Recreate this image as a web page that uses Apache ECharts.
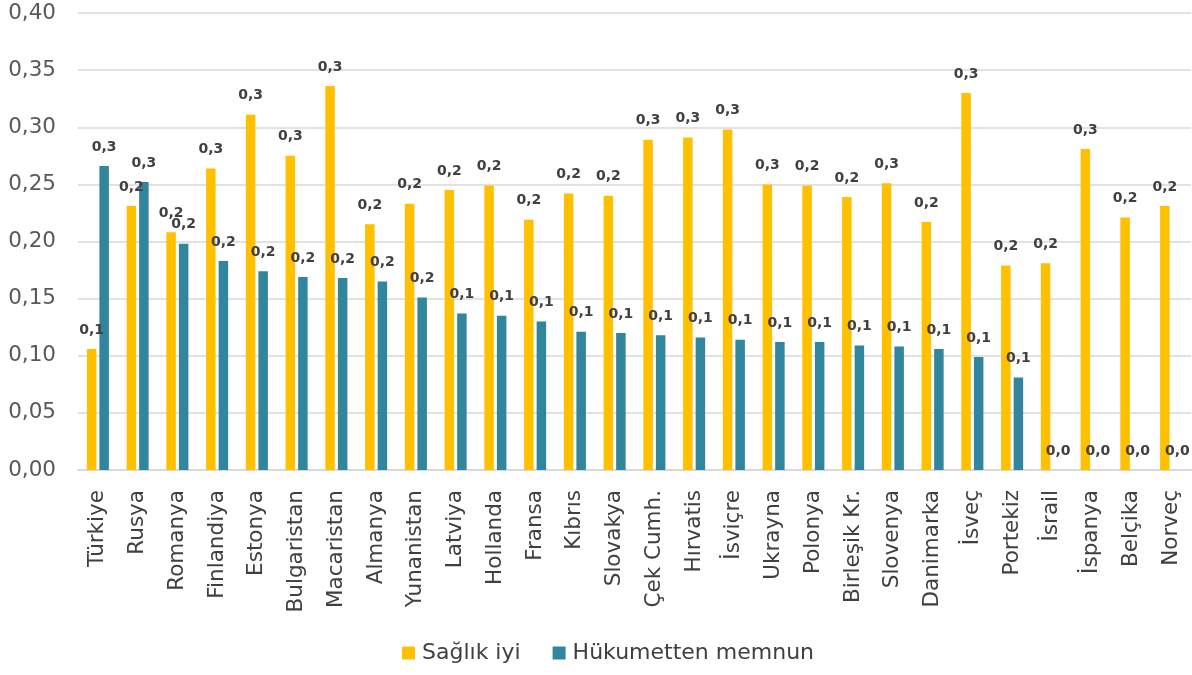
<!DOCTYPE html>
<html>
<head>
<meta charset="utf-8">
<script src="https://cdn.jsdelivr.net/npm/echarts@6/dist/echarts.min.js"></script>
<style>
  html, body { margin: 0; padding: 0; background: #ffffff; }
  #chart { width: 1192px; height: 675px; }
</style>
</head>
<body>
<div id="chart"></div>
<script>
// Ülkeler
const countries = [
  'Türkiye', 'Rusya', 'Romanya', 'Finlandiya', 'Estonya', 'Bulgaristan', 'Macaristan',
  'Almanya', 'Yunanistan', 'Latviya', 'Hollanda', 'Fransa', 'Kıbrıs', 'Slovakya',
  'Çek Cumh.', 'Hırvatis', 'İsviçre', 'Ukrayna', 'Polonya', 'Birleşik Kr.', 'Slovenya',
  'Danimarka', 'İsveç', 'Portekiz', 'İsrail', 'İspanya', 'Belçika', 'Norveç'
];

// Sağlık iyi
const saglikIyi = [
  0.106, 0.231, 0.208, 0.264, 0.311, 0.275, 0.336,
  0.215, 0.233, 0.245, 0.249, 0.219, 0.242, 0.240,
  0.289, 0.291, 0.298, 0.250, 0.249, 0.239, 0.251,
  0.217, 0.330, 0.179, 0.181, 0.281, 0.221, 0.231
];

// Hükumetten memnun
const hukumettenMemnun = [
  0.266, 0.252, 0.198, 0.183, 0.174, 0.169, 0.168,
  0.165, 0.151, 0.137, 0.135, 0.130, 0.121, 0.120,
  0.118, 0.116, 0.114, 0.112, 0.112, 0.109, 0.108,
  0.106, 0.099, 0.081, 0.0, 0.0, 0.0, 0.0
];

const seriesNames = ['Sağlık iyi', 'Hükumetten memnun'];
const yTicks = { min: 0, max: 0.40, interval: 0.05 };

const FONT = '"DejaVu Sans", sans-serif';
const comma = (v, d) => v.toFixed(d).replace('.', ',');

const dataLabel = {
  show: true,
  position: 'top',
  distance: 12,
  fontFamily: FONT,
  fontWeight: 'bold',
  fontSize: 14,
  color: '#404040',
  formatter: p => comma(p.value, 1)
};

const chart = echarts.init(document.getElementById('chart'), null, { renderer: 'canvas' });

chart.setOption({
  animation: false,
  backgroundColor: '#ffffff',
  grid: { left: 78, right: 1, top: 13, bottom: 205, containLabel: false },
  legend: {
    data: seriesNames,
    bottom: 6,
    left: 397,
    itemWidth: 13,
    itemHeight: 13,
    itemGap: 32,
    icon: 'rect',
    textStyle: { fontFamily: FONT, fontSize: 22, color: '#404040', padding: [0, 0, 0, 2] }
  },
  xAxis: {
    type: 'category',
    data: countries,
    axisTick: { show: false },
    axisLine: { lineStyle: { color: '#d9d9d9', width: 2 } },
    axisLabel: {
      rotate: 90,
      interval: 0,
      margin: 20,
      fontFamily: FONT,
      fontSize: 21.5,
      color: '#404040'
    }
  },
  yAxis: {
    type: 'value',
    min: yTicks.min,
    max: yTicks.max,
    interval: yTicks.interval,
    axisLine: { show: false },
    axisTick: { show: false },
    splitLine: { lineStyle: { color: '#d9d9d9', width: 1.5 } },
    axisLabel: {
      margin: 22,
      fontFamily: FONT,
      fontSize: 21.5,
      color: '#595959',
      formatter: v => comma(v, 2)
    }
  },
  series: [
    {
      name: seriesNames[0],
      type: 'bar',
      data: saglikIyi,
      barWidth: 9.5,
      barGap: '32%',
      itemStyle: { color: '#FFC000' },
      label: dataLabel
    },
    {
      name: seriesNames[1],
      type: 'bar',
      data: hukumettenMemnun,
      barWidth: 9.5,
      barGap: '32%',
      itemStyle: { color: '#31859C' },
      label: dataLabel
    }
  ]
});
</script>
</body>
</html>
